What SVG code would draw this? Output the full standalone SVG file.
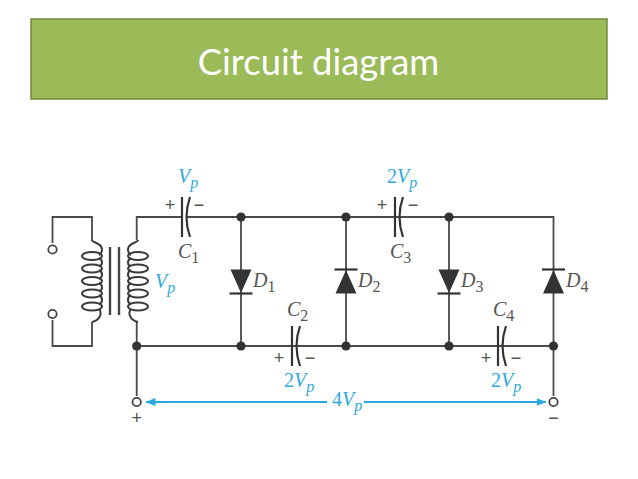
<svg xmlns="http://www.w3.org/2000/svg" width="638" height="479" viewBox="0 0 638 479">
<style>
.w{fill:none;stroke:#4a4a4a;stroke-width:1.800}
.p{fill:none;stroke:#333;stroke-width:2.200}
.c{fill:none;stroke:#3a3a3a;stroke-width:2}
.dot{fill:#333}
.term{fill:#fff;stroke:#444;stroke-width:1.800}
.d{fill:#333}
.b{fill:none;stroke:#333;stroke-width:2.200}
.a{fill:none;stroke:#29a9df;stroke-width:1.800}
text{font-family:"Liberation Serif",serif}
.l{font-size:20px;font-style:italic;fill:#555}
.v{font-size:20px;font-style:italic;fill:#2fa8dc}
.s{font-size:16px}
.u{font-style:normal}
.m{font-family:"Liberation Sans",sans-serif;font-size:18px;fill:#555;text-anchor:middle}
</style>
<defs>
<marker id="ah" viewBox="0 0 10 8" refX="9.500" refY="4" markerWidth="10" markerHeight="8" markerUnits="userSpaceOnUse" orient="auto-start-reverse"><path d="M0 0L10 4L0 8Z" fill="#29a9df"/></marker>
<g id="coil" class="c">
<path d="M0 240C0 243 9 242 10 249C10 252 9 254 7 255M7 258C11 260 11 265 7 266M7 270C11 272 11 277 7 279M7 283C11 285 11 290 7 291M7 295C11 297 11 303 7 304M7 309C10 312 9 320 0 322"/>
<ellipse cx="0" cy="256" rx="10" ry="4"/>
<ellipse cx="0" cy="268.500" rx="10" ry="4"/>
<ellipse cx="0" cy="281" rx="10" ry="4"/>
<ellipse cx="0" cy="293.500" rx="10" ry="4"/>
<ellipse cx="0" cy="306.500" rx="10" ry="4"/>
</g>
<g id="cap"><path class="p" d="M0 -20V20"/><path class="p" d="M8 -20Q1 0 8 20"/></g>
<g id="dd"><path class="d" d="M-10.500 -12H10.500L0 11.500Z"/><path class="b" d="M-11.500 12H11.500"/></g>
<g id="du"><path class="d" d="M-10.500 12H10.500L0 -11.500Z"/><path class="b" d="M-11.500 -12H11.500"/></g>
</defs>
<g id="title">
<rect x="31" y="19" width="576" height="80" fill="#9bbb59" stroke="#74883f" stroke-width="1.500"/>
<text x="318.500" y="75" text-anchor="middle" style="font-family:Lato,sans-serif;font-size:36.400px;fill:#fff">Circuit diagram</text>
</g>
<g id="connectors">
<path class="w" d="M52.500 243V217H92V240M52.500 320V346H92V322"/>
<path class="w" d="M136.700 240V217H182M187 217H553.500V346H136.700V322M136.700 346V396"/>
<path class="w" d="M241 217V346M346 217V346M449 217V346M553.500 346V396"/>
<path class="a" d="M146 402H327" marker-start="url(#ah)"/>
<path class="a" d="M364 402H546" marker-end="url(#ah)"/>
</g>
<g id="transformer">
<use href="#coil" x="92"/>
<use href="#coil" transform="translate(138 0) scale(-1 1)"/>
<path d="M110 247V315M119 247V315" stroke="#444" stroke-width="2.400" fill="none"/>
<text class="v" x="155" y="288">V<tspan class="s" dy="5">p</tspan></text>
</g>
<g id="C1"><use href="#cap" x="182" y="217"/><text class="m" x="170" y="211">+</text><text class="m" x="199" y="211">−</text>
<text class="v" x="178" y="183">V<tspan class="s" dy="5">p</tspan></text>
<text class="l" x="178" y="258">C<tspan class="s u" dy="5">1</tspan></text></g>
<g id="C2"><use href="#cap" x="292" y="346"/><text class="m" x="279" y="364">+</text><text class="m" x="310" y="364">−</text>
<text class="v" x="284" y="387"><tspan class="u">2</tspan>V<tspan class="s" dy="5">p</tspan></text>
<text class="l" x="287" y="316">C<tspan class="s u" dy="5">2</tspan></text></g>
<g id="C3"><use href="#cap" x="395" y="217"/><text class="m" x="382" y="211">+</text><text class="m" x="413" y="211">−</text>
<text class="v" x="387" y="183"><tspan class="u">2</tspan>V<tspan class="s" dy="5">p</tspan></text>
<text class="l" x="390" y="258">C<tspan class="s u" dy="5">3</tspan></text></g>
<g id="C4"><use href="#cap" x="498" y="346"/><text class="m" x="486" y="364">+</text><text class="m" x="516" y="364">−</text>
<text class="v" x="491" y="387"><tspan class="u">2</tspan>V<tspan class="s" dy="5">p</tspan></text>
<text class="l" x="493" y="316">C<tspan class="s u" dy="5">4</tspan></text></g>
<g id="D1"><use href="#dd" x="241" y="281.500"/><text class="l" x="253" y="287">D<tspan class="s u" dy="5">1</tspan></text></g>
<g id="D2"><use href="#du" x="346" y="281.500"/><text class="l" x="358" y="287">D<tspan class="s u" dy="5">2</tspan></text></g>
<g id="D3"><use href="#dd" x="449" y="281.500"/><text class="l" x="461" y="287">D<tspan class="s u" dy="5">3</tspan></text></g>
<g id="D4"><use href="#du" x="553.500" y="281.500"/><text class="l" x="566" y="287">D<tspan class="s u" dy="5">4</tspan></text></g>
<g id="junctions">
<circle class="dot" cx="241" cy="217" r="4.600"/><circle class="dot" cx="346" cy="217" r="4.600"/><circle class="dot" cx="449" cy="217" r="4.600"/>
<circle class="dot" cx="136.700" cy="346" r="4.600"/><circle class="dot" cx="241" cy="346" r="4.600"/><circle class="dot" cx="346" cy="346" r="4.600"/><circle class="dot" cx="449" cy="346" r="4.600"/><circle class="dot" cx="553.500" cy="346" r="4.600"/>
</g>
<g id="terminals">
<circle class="term" cx="52.500" cy="249.500" r="4.200"/><circle class="term" cx="52.500" cy="314" r="4.200"/>
<circle class="term" cx="136.700" cy="402" r="4.200"/><circle class="term" cx="553.500" cy="402" r="4.200"/>
<text class="m" x="136.700" y="424">+</text><text class="m" x="553.500" y="424">−</text>
</g>
<g id="output"><text class="v" x="332" y="406"><tspan class="u">4</tspan>V<tspan class="s" dy="5">p</tspan></text></g>
</svg>
